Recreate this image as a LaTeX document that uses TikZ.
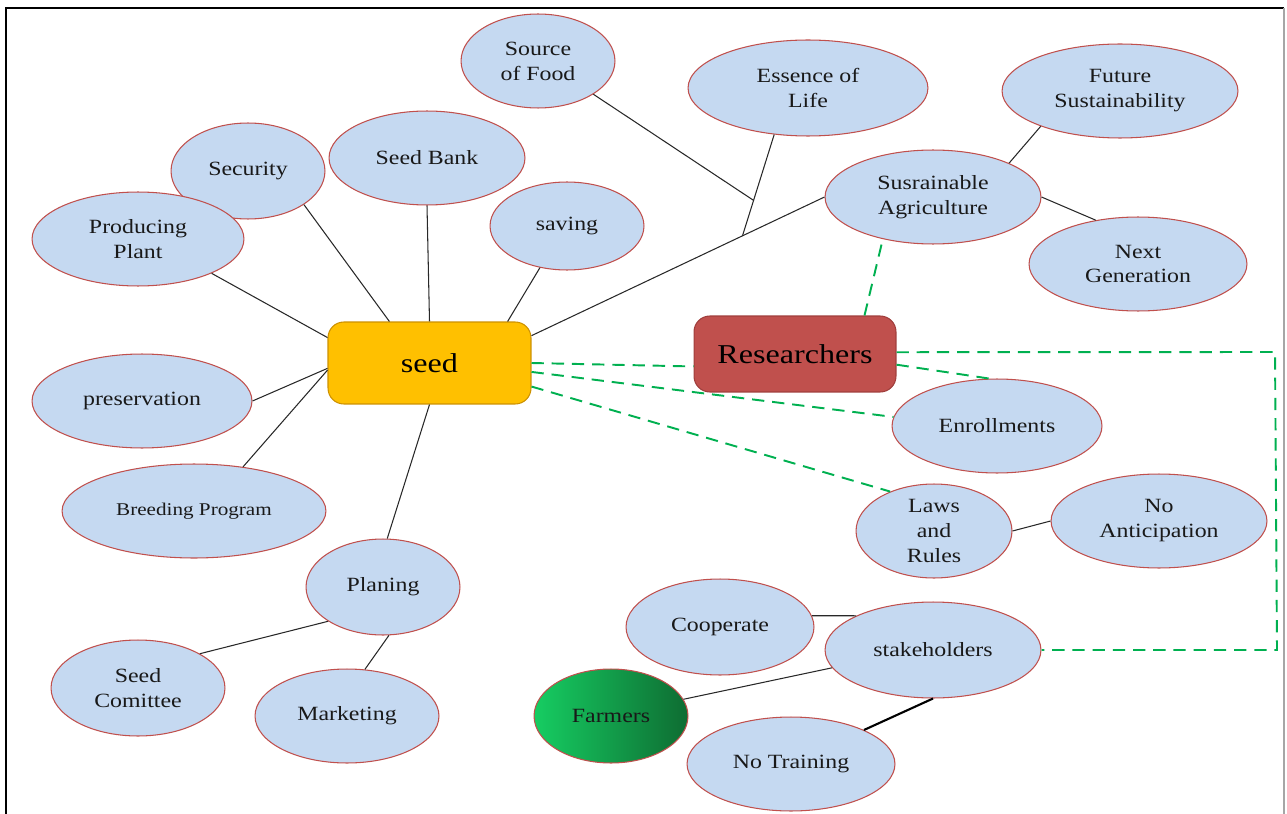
\documentclass[tikz,border=0pt]{standalone}
\usepackage{fontspec}
\setmainfont{Liberation Serif}[FakeStretch=1.18]
\usetikzlibrary{shapes.geometric,calc}
\definecolor{bubfill}{RGB}{197,217,241}
\definecolor{bubline}{RGB}{192,80,77}
\definecolor{seedfill}{RGB}{255,192,0}
\definecolor{seedline}{RGB}{205,145,0}
\definecolor{resfill}{RGB}{192,80,77}
\definecolor{resline}{RGB}{160,62,60}
\definecolor{dgreen}{RGB}{0,176,80}
\definecolor{farmL}{RGB}{22,205,98}
\definecolor{farmR}{RGB}{14,108,50}
\definecolor{conn}{RGB}{40,40,40}
\begin{document}
\begin{tikzpicture}[x=0.02cm,y=-0.02cm,
  sz/.style 2 args={minimum width=#1*0.04cm,minimum height=#2*0.04cm},
  bub/.style={ellipse,draw=bubline,line width=0.6pt,fill=bubfill,inner sep=0pt,align=center,
    font=\fontsize{11.5}{14.2}\selectfont,text=black!90},
  farm/.style={bub,left color=farmL,right color=farmR,shading angle=90},
  seedbox/.style={rectangle,rounded corners=9pt,draw=seedline,line width=0.6pt,fill=seedfill,
    minimum width=4.06cm,minimum height=1.64cm,font=\fontsize{15.5}{18}\selectfont},
  resbox/.style={rectangle,rounded corners=9pt,draw=resline,line width=0.6pt,fill=resfill,
    minimum width=4.04cm,minimum height=1.52cm,font=\fontsize{15.5}{18}\selectfont},
  link/.style={draw=conn,line width=0.6pt},
  glink/.style={draw=dgreen,line width=1.1pt,dash pattern=on 7pt off 4.5pt}]
\useasboundingbox (0,0) rectangle (1287,814);
\draw[line width=1pt] (6,814) -- (6,8) -- (1284,8);
\draw[gray!70,line width=0.8pt] (1284,8) -- (1284,814);

\node[bub,sz={77}{47}] (sof) at (538,61) {Source\\of Food};
\node[bub,sz={120}{48}] (eol) at (808,88) {Essence of\\Life};
\node[bub,sz={118}{47}] (fs) at (1120,91) {Future\\Sustainability};
\node[bub,sz={77}{48}] (sec) at (248,171) {Security};
\node[bub,sz={98}{47}] (sb) at (427,158) {Seed Bank};
\node[bub,sz={108}{47}] (sa) at (933,197) {Susrainable\\Agriculture};
\node[bub,sz={106}{47}] (pp) at (138,239) {Producing\\Plant};
\node[bub,sz={77}{44}] (sav) at (567,226) {saving};
\node[bub,sz={109}{47}] (ng) at (1138,264) {Next\\Generation};
\node[seedbox] (seed) at (429.5,363) {seed};
\node[resbox] (res) at (795,354) {Researchers};
\node[bub,sz={110}{47}] (pres) at (142,401) {preservation};
\node[bub,sz={105}{47}] (enr) at (997,426) {Enrollments};
\node[bub,sz={132}{47},font=\fontsize{10.2}{12}\selectfont] (bp) at (194,511) {Breeding Program};
\node[bub,sz={78}{47}] (laws) at (934,531) {Laws\\and\\Rules};
\node[bub,sz={108}{47}] (na) at (1159,521) {No\\Anticipation};
\node[bub,sz={77}{48}] (pl) at (383,587) {Planing};
\node[bub,sz={94}{48}] (coop) at (720,627) {Cooperate};
\node[bub,sz={108}{48}] (sh) at (933,650) {stakeholders};
\node[bub,sz={87}{48}] (sc) at (138,688) {Seed\\Comittee};
\node[bub,sz={92}{47}] (mk) at (347,716) {Marketing};
\node[farm,sz={77}{47}] (farm) at (611,716) {Farmers};
\node[bub,sz={104}{47}] (nt) at (791,764) {No Training};

% black connectors
\draw[link] (pp.-25) -- (seed.166);
\draw[link] (sec.-31) -- (seed.134);
\draw[link] (sb.south) -- (seed.north);
\draw[link] (sav.-123) -- (seed.28);
\draw[link] (seed.15) -- (sa.west);
\coordinate (j2) at ($(seed.15)!0.72!(sa.west)$);
\draw[link] (eol.-126.5) -- (j2);
\coordinate (j1) at ($(eol.-126.5)!0.65!(j2)$);
\draw[link] (sof.-31) -- (j1);
\draw[link] (sa.24) -- (fs.-156);
\draw[link] (sa.east) -- (ng.134);
\draw[link] (pres.east) -- (seed.183);
\draw[link] (bp.42) -- (seed.184);
\draw[link] (seed.south) -- (pl.85);
\draw[link] (pl.-148) -- (sc.29);
\draw[link] (pl.-83) -- (mk.69);
\draw[link] (laws.east) -- (na.west);
\draw[link] (coop.7) -- (sh.156);
\draw[link] (farm.13.5) -- (sh.190);
\draw[link,line width=1.2pt,draw=black] (nt.25) -- (sh.south);

% green dashed connectors
\draw[glink] (seed.east) -- (res.187);
\draw[glink] (seed.-5) -- (enr.175.6);
\draw[glink] (seed.-13.7) -- (laws.138);
\draw[glink] (res.-6.6) -- (enr.99);
\draw[glink] (res.29.6) -- (sa.-140);
\coordinate (c1) at (1275,352);
\coordinate (c2) at (1277,650);
\draw[glink] (res.1) -- (c1) -- (c2) -- (sh.east);
\end{tikzpicture}
\end{document}
